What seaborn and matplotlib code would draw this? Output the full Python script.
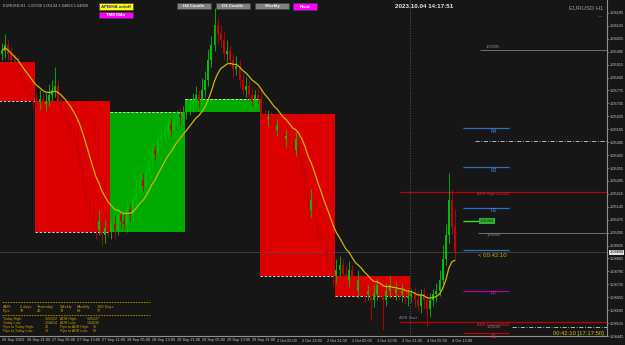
import numpy as np
import pandas as pd
import matplotlib
matplotlib.use("Agg")
import matplotlib.pyplot as plt
import seaborn as sns
from matplotlib.patches import Rectangle

sns.set_theme(style="dark")
plt.rcParams['font.family'] = ['Liberation Sans', 'DejaVu Sans']

# ---------------- data ----------------
time_labels = ["26 Sep 2023", "26 Sep 21:00", "27 Sep 05:00", "27 Sep 13:00", "27 Sep 21:00",
               "28 Sep 05:00", "28 Sep 13:00", "28 Sep 21:00", "29 Sep 05:00", "29 Sep 13:00",
               "29 Sep 21:00", "2 Oct 05:00", "2 Oct 13:00", "2 Oct 21:00", "3 Oct 05:00",
               "3 Oct 13:00", "3 Oct 21:00", "4 Oct 05:00", "4 Oct 13:00"]
first_open = 1.0597
closes = [1.0599, 1.0602, 1.0597, 1.0594, 1.0591, 1.0589, 1.0583, 1.0580, 1.0578, 1.0575,
          1.0572, 1.0571, 1.0573, 1.0570, 1.0572, 1.0575, 1.0578, 1.0580, 1.0572, 1.0567,
          1.0564, 1.0559, 1.0556, 1.0551, 1.0545, 1.0537, 1.0526, 1.0518, 1.0510, 1.0505,
          1.0502, 1.0507, 1.0499, 1.0503, 1.0501, 1.0505, 1.0502, 1.0510, 1.0507, 1.0505,
          1.0513, 1.0510, 1.0518, 1.0524, 1.0529, 1.0526, 1.0534, 1.0540, 1.0545, 1.0543,
          1.0551, 1.0553, 1.0556, 1.0559, 1.0556, 1.0562, 1.0564, 1.0563, 1.0566, 1.0567,
          1.0570, 1.0572, 1.0575, 1.0572, 1.0578, 1.0583, 1.0594, 1.0602, 1.0613, 1.0608,
          1.0605, 1.0597, 1.0599, 1.0594, 1.0589, 1.0591, 1.0583, 1.0578, 1.0580, 1.0575,
          1.0572, 1.0575, 1.0573, 1.0564, 1.0562, 1.0563, 1.0559, 1.0556, 1.0559, 1.0553,
          1.0551, 1.0553, 1.0548, 1.0545, 1.0551, 1.0543, 1.0534, 1.0524, 1.0513, 1.0518,
          1.0507, 1.0499, 1.0497, 1.0491, 1.0488, 1.0485, 1.0477, 1.0480, 1.0483, 1.0478,
          1.0475, 1.0480, 1.0472, 1.0469, 1.0475, 1.0472, 1.0467, 1.0469, 1.0464, 1.0467,
          1.0472, 1.0469, 1.0464, 1.0469, 1.0472, 1.0468, 1.0470, 1.0467, 1.0469, 1.0465,
          1.0466, 1.0467, 1.0464, 1.0461, 1.0467, 1.0464, 1.0459, 1.0464, 1.0467, 1.0469,
          1.0475, 1.0486, 1.0499, 1.0518, 1.05038, 1.04899]
upper_wick_pips = [4, 6, 3, 4, 3, 5, 3, 4, 3, 4,
                   3, 4, 5, 3, 4, 6, 5, 10, 3, 4,
                   3, 4, 3, 5, 3, 4, 3, 4, 3, 5,
                   4, 6, 3, 5, 4, 3, 5, 4, 3, 4,
                   5, 3, 4, 5, 3, 4, 5, 3, 4, 3,
                   4, 3, 5, 4, 3, 4, 3, 4, 3, 4,
                   3, 4, 5, 3, 6, 5, 6, 5, 9, 4,
                   5, 4, 6, 3, 4, 5, 3, 4, 5, 3,
                   4, 3, 4, 6, 3, 4, 3, 4, 3, 4,
                   5, 3, 4, 3, 4, 3, 4, 3, 5, 6,
                   3, 4, 3, 5, 3, 4, 3, 6, 5, 3,
                   4, 5, 3, 4, 5, 3, 4, 3, 4, 5,
                   4, 3, 3, 4, 5, 3, 4, 3, 4, 3,
                   4, 3, 4, 5, 3, 4, 3, 4, 3, 4,
                   5, 8, 6, 15, 6, 9.6]
lower_wick_pips = [3, 4, 3, 4, 3, 3, 4, 3, 4, 3,
                   4, 3, 4, 3, 4, 3, 3, 4, 5, 3,
                   4, 3, 4, 3, 4, 3, 5, 4, 3, 4,
                   5, 3, 5, 4, 3, 4, 5, 3, 4, 3,
                   4, 3, 4, 3, 4, 3, 4, 3, 4, 3,
                   3, 4, 3, 4, 3, 4, 3, 4, 3, 4,
                   3, 4, 3, 4, 3, 4, 3, 4, 3, 5,
                   4, 3, 4, 3, 4, 3, 4, 3, 4, 3,
                   3, 4, 3, 4, 3, 4, 3, 4, 3, 4,
                   3, 4, 3, 4, 3, 4, 5, 4, 6, 4,
                   4, 3, 4, 3, 4, 3, 5, 4, 3, 4,
                   3, 4, 5, 3, 4, 3, 4, 3, 11, 4,
                   3, 4, 16, 3, 4, 3, 4, 3, 4, 3,
                   4, 3, 4, 3, 4, 5, 9, 4, 3, 4,
                   3, 4, 3, 4, 4, 3.1]
day_first_bar = [-1, 11, 35, 59, 83, 107]
day_last_bar = [10, 34, 58, 82, 106, 130]
day_open = [1.0593, 1.0572, 1.0501, 1.0566, 1.0565, 1.0477]
day_close = [1.0572, 1.0501, 1.0566, 1.0573, 1.0477, 1.0466]
pivot_names = ["R4", "R3", "R2", "R1", "PP", "S1"]
pivot_values = [1.0557, 1.0536, 1.0514, 1.0491, 1.0469, 1.0446]
adr_high = 1.05227
adr_low = 1.04520
level_upper = 1.05995
level_mid = 1.05005
level_green = 1.05068
dashdot_levels = [1.05502, 1.04495]
price_ticks = [round(1.06195 - 0.0007 * k, 5) for k in range(26)]
ohlc_header = "EURUSD,H1  1.05038 1.05134 1.04868 1.04899"
table_rows = [("ADR:", "5 days", "Yesterday", "Weekly", "Monthly", "100 Days"),
              ("Pips:", "79", "40", "73", "68", "77")]
table_rows2 = [("Today High:", "1.05322", "ADR High:", "1.05227"),
               ("Today Low:", "1.04614", "ADR Low:", "1.04230"),
               ("Pips to Today High:", "42", "Pips to ADR High:", "35"),
               ("Pips to Today Low:", "38", "Pips to ADR Low:", "63")]

# ---------------- derived ----------------
n = len(closes)
idx = np.arange(n)
c = np.array(closes)
o = np.concatenate([[first_open], c[:-1]])
hi = np.maximum(o, c) + np.array(upper_wick_pips) * 1e-4
lo = np.minimum(o, c) - np.array(lower_wick_pips) * 1e-4
df = pd.DataFrame({"bar": idx, "close": c})
df["ma"] = df["close"].ewm(span=12, adjust=True).mean()

BG = "#161616"
W, H = 625, 345
fig = plt.figure(figsize=(W / 100, H / 100), dpi=100, facecolor=BG)
ax = fig.add_axes([0, 9 / H, 607 / W, 336 / H])
ax.set_facecolor(BG)

def px(xp):
    return (xp - 2) / 3.125

ax.set_xlim(px(0), px(607))
ax.set_ylim(1.04445, 1.06265)

# daily boxes
for fb, lb, do, dc in zip(day_first_bar, day_last_bar, day_open, day_close):
    col = "#dd0000" if dc < do else "#00aa00"
    ax.add_patch(Rectangle((fb - 0.5, min(do, dc)), lb - fb + 1, abs(dc - do),
                           facecolor=col, edgecolor="none", zorder=1))
    ax.hlines(dc, fb - 0.5, lb + 0.5, colors="#e8e8e8", linestyles=(0, (3, 2)), lw=0.6, zorder=2)

# candles
colors = np.where(c >= o, "#00c000", "#c80000")
ax.vlines(idx, lo, hi, colors=colors, lw=0.6, zorder=3)
ax.bar(idx, np.maximum(np.abs(c - o), 0.00003), bottom=np.minimum(o, c), width=0.6,
       color=colors, linewidth=0, zorder=4)

# moving average
sns.lineplot(data=df, x="bar", y="ma", color="#c8b800", lw=0.9, ax=ax, zorder=5)

# separators / bid line
ax.axvline(130.5, color="#707070", lw=0.6, ls=(0, (1, 2)), zorder=2)
ax.axhline(closes[-1], color="#505050", lw=0.5, zorder=2)

FS = 2.9
# levels
ax.hlines(level_upper, px(480), px(607), colors="#707070", lw=0.7, zorder=2)
ax.text(px(486), level_upper + 0.00004, "1.05995", color="#909090", fontsize=FS, va="bottom")
for lv, x0 in zip(dashdot_levels, [px(475), px(512)]):
    ax.hlines(lv, x0, px(607), colors="#d0d0d0", lw=0.6, linestyles=(0, (5, 2, 1, 2)), zorder=2)
ax.hlines(adr_high, px(400), px(607), colors="#c00000", lw=0.9, zorder=2)
ax.text(px(477), adr_high - 0.00002, "ADR High 1.05227", color="#d03030", fontsize=FS, va="top")
ax.hlines(adr_low, px(400), px(607), colors="#c00000", lw=0.9, zorder=2)
ax.text(px(477), adr_low - 0.00002, "ADR Low 1.04520", color="#d03030", fontsize=FS, va="top")
ax.text(px(487), adr_low - 0.00018, "1.04505", color="#808080", fontsize=FS, va="top")
ax.text(px(399), adr_low + 0.00012, "ADR Start", color="#8080a0", fontsize=FS, va="bottom")
ax.hlines(level_mid, px(478), px(607), colors="#707070", lw=0.7, zorder=2)
ax.text(px(487), level_mid - 0.00004, "1.05005", color="#909090", fontsize=FS, va="top")
ax.hlines(level_green, px(463), px(479), colors="#30e030", lw=1.0, zorder=6)
ax.text(px(480), level_green, "1.05068", color="#103010", fontsize=FS, va="center",
        bbox=dict(boxstyle="square,pad=0.2", facecolor="#30b030", edgecolor="none"), zorder=6)
piv_cols = {"R4": "#3070c0", "R3": "#3070c0", "R2": "#3070c0", "R1": "#3070c0",
            "PP": "#b000b0", "S1": "#c00000"}
piv_text_cols = {"R4": "#4a8ad0", "R3": "#4a8ad0", "R2": "#4a8ad0", "R1": "#4a8ad0",
                 "PP": "#c020c0", "S1": "#d03030"}
for name, val in zip(pivot_names, pivot_values):
    ax.hlines(val, px(463), px(509), colors=piv_cols[name], lw=0.9, zorder=2)
    if name != "R1":
        ax.text(px(494), val - 0.00003, name, color=piv_text_cols[name], fontsize=3.6,
                ha="center", va="top")
ax.text(px(478), 1.04880, "< 00:42:10", color="#d0b000", fontsize=4.3, va="center")

# axes styling
ax.yaxis.tick_right()
ax.set_yticks(price_ticks)
ax.set_yticklabels([f"{v:.5f}" for v in price_ticks], color="#c8c8c8", fontsize=2.8)
ax.set_xticks(np.arange(0, 145, 8))
ax.set_xticklabels(time_labels, color="#c8c8c8", fontsize=2.8, ha="left")
ax.tick_params(axis="both", length=1.2, width=0.5, color="#909090", pad=0.6)
for s in ["top", "left"]:
    ax.spines[s].set_visible(False)
for s in ["right", "bottom"]:
    ax.spines[s].set_visible(True)
    ax.spines[s].set_color("#909090")
    ax.spines[s].set_linewidth(0.8)
ax.grid(False)
ax.set_xlabel("")
ax.set_ylabel("")

# current price marker on the axis
ax.text(1.0045, closes[-1], f"{closes[-1]:.5f}", transform=ax.get_yaxis_transform(),
        fontsize=2.8, color="#101010", va="center", ha="left",
        bbox=dict(boxstyle="square,pad=0.12", facecolor="#e0e0e0", edgecolor="none"), zorder=7)

# overlay (pixel coordinates)
ov = fig.add_axes([0, 0, 1, 1])
ov.set_xlim(0, W)
ov.set_ylim(H, 0)
ov.axis("off")
ov.patch.set_alpha(0)

ov.text(3, 6, ohlc_header, color="#c0c0c0", fontsize=2.8, va="center")
buttons = [(99, 3, 34, 7, "#ffff00", "#2020c0", "APB/HA on/off"),
           (99, 12, 34, 6, "#ff00ff", "#ffffff", "TMS MAs"),
           (177, 3, 34, 6, "#808080", "#f0f0f0", "H4 Candle"),
           (216, 3, 34, 6, "#808080", "#f0f0f0", "D1 Candle"),
           (255, 3, 34, 6, "#808080", "#f0f0f0", "Weekly"),
           (293, 3, 24, 7, "#ff00ff", "#ffffff", "Pivot")]
for x0, y0, w, h, fc, tc, t in buttons:
    ov.add_patch(Rectangle((x0, y0), w, h, facecolor=fc, edgecolor="#404040", lw=0.4))
    ov.text(x0 + w / 2, y0 + h / 2, t, color=tc, fontsize=3.2, ha="center", va="center",
            fontweight="bold")
ov.text(424, 6, "2023.10.04 14:17:51", color="#e8e8e8", fontsize=4.5, ha="center",
        va="center", fontweight="bold")
ov.text(603, 8, "EURUSD H1", color="#a0a0a0", fontsize=4.2, ha="right", va="center")
ov.text(603, 16, "----", color="#a0a0a0", fontsize=3.0, ha="right", va="center")
ov.text(604, 333, "00:42:10 [17:17:50]", color="#d0c000", fontsize=4.2, ha="right", va="center")

# info table
ov.hlines([302, 315], 2, 150, colors="#b09000", lw=0.6, linestyles=(0, (2, 1.2)))
col_x = [3, 20, 37, 60, 77, 97]
for r, row in enumerate(table_rows):
    for xx, t in zip(col_x, row):
        ov.text(xx, 307 + 4.2 * r, t, color="#c8a000", fontsize=2.8, va="center")
for r, row in enumerate(table_rows2):
    col_x2 = [3, 45, 60, 87] if r < 2 else [3, 45, 60, 93]
    for xx, t in zip(col_x2, row):
        ov.text(xx, 319 + 4.1 * r, t, color="#c8a000", fontsize=2.6, va="center")

fig.savefig("out.png", dpi=100, facecolor=BG)
